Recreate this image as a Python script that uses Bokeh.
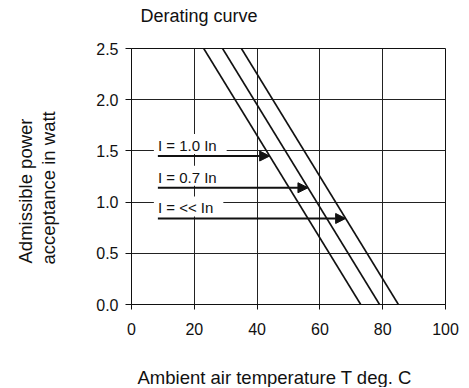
from bokeh.plotting import figure
from bokeh.models import (ColumnDataSource, Arrow, NormalHead, Label, Title,
                          Range1d, FixedTicker)
from bokeh.embed import file_html
from bokeh.resources import INLINE

FONT = "Liberation Sans"
INK = "#111111"

# ---- data ----
series_labels = ["I = 1.0 In", "I = 0.7 In", "I = << In"]
temp_at_max_power = [23, 29, 35]      # deg C where each curve leaves 2.5 W
temp_at_zero_power = [73, 79, 85]     # deg C where each curve reaches 0 W
max_power = 2.5
arrow_power = [1.45, 1.14, 0.84]      # W level of each label arrow
arrow_start_temp = [8.4, 8.4, 8.4]
x_ticks = [0, 20, 40, 60, 80, 100]
y_ticks = [0.0, 0.5, 1.0, 1.5, 2.0, 2.5]
y_tick_labels = ["0.0", "0.5", "1.0", "1.5", "2.0", "2.5"]

p = figure(width=466, height=387, output_backend="svg", toolbar_location=None,
           x_range=Range1d(0, 100), y_range=Range1d(0, 2.5),
           min_border_left=131, min_border_right=21,
           min_border_top=48, min_border_bottom=82)
p.title = None

p.background_fill_color = "white"
p.border_fill_color = "white"
p.outline_line_color = INK
p.outline_line_width = 1


def title(text, size, align="left", offset=0, standoff=0):
    return Title(text=text, align=align, offset=offset, standoff=standoff,
                 text_font=FONT, text_font_size=size, text_font_style="normal",
                 text_color=INK)


# top: spacer then chart title
p.add_layout(title(" ", "18px", standoff=1), "above")
p.add_layout(title("Derating curve", "18px", offset=9), "above")

# axes
for ax in (p.xaxis[0], p.yaxis[0]):
    ax.major_label_text_font = FONT
    ax.major_label_text_font_size = "16px"
    ax.major_label_text_color = INK
    ax.axis_line_color = INK
    ax.major_tick_line_color = INK
    ax.major_tick_in = 0
    ax.minor_tick_line_color = None
p.xaxis.ticker = FixedTicker(ticks=x_ticks)
p.yaxis.ticker = FixedTicker(ticks=y_ticks)
p.yaxis.major_label_overrides = {t: l for t, l in zip(y_ticks, y_tick_labels)}
p.xaxis.major_tick_out = 5
p.yaxis.major_tick_out = 6
p.xaxis.major_label_standoff = 13
p.yaxis.major_label_standoff = 7

# grid
p.xgrid.grid_line_color = "#222222"
p.ygrid.grid_line_color = "#222222"
p.xgrid.grid_line_width = 1
p.ygrid.grid_line_width = 1

# axis titles (spacer + text, so they sit where the original has them)
p.add_layout(title(" ", "18.5px", standoff=4), "below")
p.add_layout(title("Ambient air temperature T deg. C", "18.5px", offset=6), "below")
p.add_layout(title(" ", "18.5px", standoff=12), "left")
p.add_layout(title("acceptance in watt", "18.5px", offset=40), "left")
p.add_layout(title("Admissible power", "18.5px", offset=41), "left")

# derating lines
curves = ColumnDataSource(dict(
    xs=[[a, b] for a, b in zip(temp_at_max_power, temp_at_zero_power)],
    ys=[[max_power, 0.0] for _ in temp_at_max_power],
))
p.multi_line(xs="xs", ys="ys", source=curves, line_color=INK, line_width=1.6)

# labels (white box hides the grid behind the text)
for lab, x, y in zip(series_labels, arrow_start_temp, arrow_power):
    p.add_layout(Label(x=x, y=y, x_offset=-4, y_offset=12, text=lab, text_font=FONT,
                       text_font_size="15px", text_color=INK,
                       text_baseline="alphabetic",
                       background_fill_color="white",
                       padding=dict(left=4, right=10, top=3, bottom=0)))

# arrows ending on their curve (drawn above the label boxes)
arrow_end_temp = [a + (max_power - y) / max_power * (b - a)
                  for a, b, y in zip(temp_at_max_power, temp_at_zero_power, arrow_power)]
arrows = ColumnDataSource(dict(x0=arrow_start_temp, y0=arrow_power,
                               x1=arrow_end_temp, y1=arrow_power))
p.add_layout(Arrow(source=arrows, x_start="x0", y_start="y0", x_end="x1", y_end="y1",
                   line_color=INK, line_width=2,
                   end=NormalHead(size=10, fill_color=INK, line_color=INK)))

open("out.html", "w").write(file_html(p, INLINE))
